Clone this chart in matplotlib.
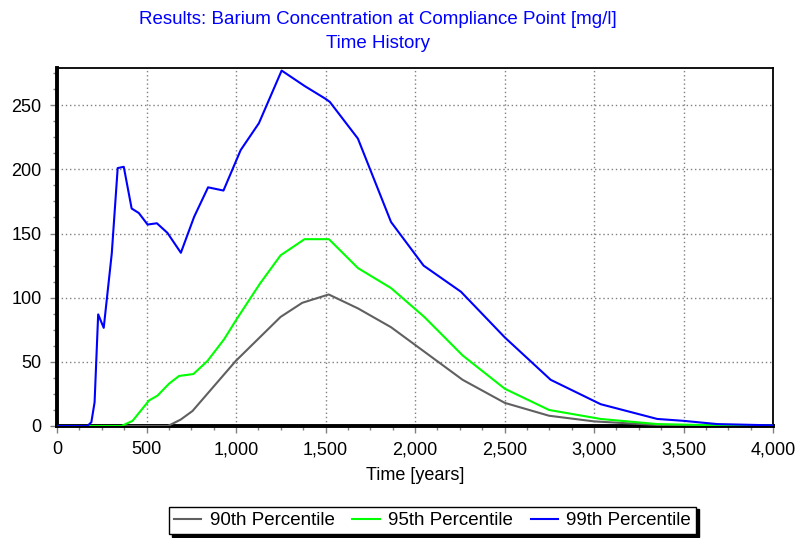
import matplotlib
matplotlib.use("Agg")
import matplotlib.pyplot as plt
from matplotlib.ticker import MultipleLocator, StrMethodFormatter

plt.rcParams["font.family"] = ["Liberation Sans", "DejaVu Sans"]

# --- data ---
years_90 = [0, 620, 691, 757, 998, 1249, 1370, 1518, 1682, 1866, 2266, 2502, 2749, 3000, 3353, 4000]
conc_90 = [0, 0, 5, 11.7, 50.6, 85, 96, 102.5, 91.6, 77, 36, 18, 8, 3.6, 0.8, 0.2]

years_95 = [0, 360, 422, 515, 561, 626, 682, 762, 840, 933, 1007, 1134, 1249, 1383, 1519,
            1682, 1866, 2052, 2266, 2502, 2749, 3037, 3353, 3700, 4000]
conc_95 = [0, 0, 4, 20, 23.6, 33, 39, 40.5, 50.6, 67.5, 84, 111, 133, 145.6, 145.6,
           123, 107.5, 85, 55, 29, 12.5, 5.5, 1.5, 0.5, 0.3]

years_99 = [0, 170, 192, 210, 230, 261, 306, 339, 373, 417, 457, 506, 558, 617, 692, 766,
            844, 930, 1026, 1128, 1255, 1383, 1500, 1524, 1681, 1866, 2048, 2257, 2502,
            2758, 3037, 3353, 3502, 3688, 4000]
conc_99 = [0, 0, 3, 18.5, 87, 76.5, 134.5, 201, 202, 169.5, 166, 157, 158, 150.5, 135, 163,
           186, 183.5, 215, 236, 277, 265, 255, 252.6, 224, 159, 125, 104.6, 69,
           36, 17, 5.5, 4, 1.5, 0.5]

series = [
    ("90th Percentile", years_90, conc_90, "#606060"),
    ("95th Percentile", years_95, conc_95, "#00ff00"),
    ("99th Percentile", years_99, conc_99, "#0000ff"),
]

fig = plt.figure(figsize=(7.99, 5.38), dpi=100, facecolor="white")
ax = fig.add_axes([57 / 799, 1 - 426 / 538, 716 / 799, 358 / 538])

for label, xs, ys, color in series:
    ax.plot(xs, ys, color=color, lw=1.5, label=label, zorder=3)

ax.set_xlim(0, 4000)
ax.set_ylim(0, 279)
ax.xaxis.set_major_locator(MultipleLocator(500))
ax.xaxis.set_minor_locator(MultipleLocator(125))
ax.yaxis.set_major_locator(MultipleLocator(50))
ax.yaxis.set_minor_locator(MultipleLocator(12.5))
ax.xaxis.set_major_formatter(StrMethodFormatter("{x:,.0f}"))

ax.grid(True, which="major", color="#808080", ls=(0, (1, 2)), lw=1.0, zorder=1)
ax.tick_params(which="major", direction="out", length=5, width=1, color="#808080",
               labelsize=13, labelcolor="black", pad=6)
ax.tick_params(which="minor", direction="out", length=3, width=1, color="#808080")

for side in ("left", "bottom"):
    ax.spines[side].set_linewidth(2.8)
    ax.spines[side].set_color("black")
for side in ("top", "right"):
    ax.spines[side].set_linewidth(1.3)
    ax.spines[side].set_color("black")

ax.set_xlabel("Time [years]", fontsize=13, labelpad=6)

fig.text(378 / 799, 1 - 20 / 538, "Results: Barium Concentration at Compliance Point [mg/l]",
         ha="center", va="center", fontsize=13.5, color="#0000ff")
fig.text(378 / 799, 1 - 44 / 538, "Time History",
         ha="center", va="center", fontsize=13.5, color="#0000ff")

leg = fig.legend(loc="center", bbox_to_anchor=(432.5 / 799, 1 - 520.5 / 538), ncol=3,
                 fontsize=13.5, frameon=True, fancybox=False, edgecolor="black",
                 framealpha=1, shadow={"color": "black", "alpha": 1},
                 handlelength=1.45, columnspacing=0.95, handletextpad=0.45,
                 borderpad=0.28, borderaxespad=0)
leg.get_frame().set_linewidth(1.0)

fig.savefig("out.png", dpi=100, facecolor="white")
